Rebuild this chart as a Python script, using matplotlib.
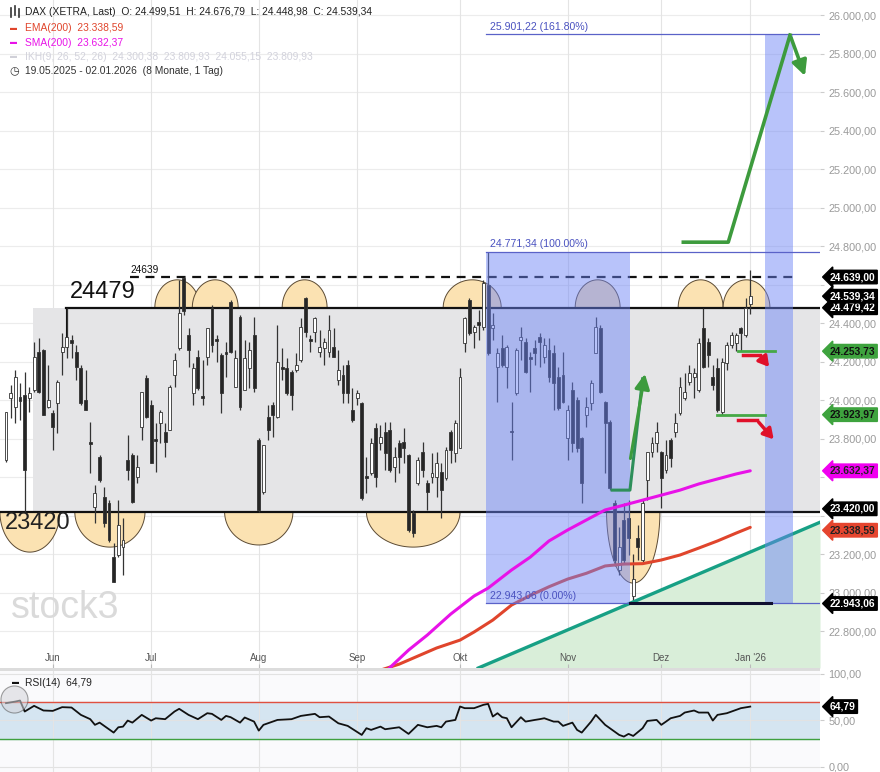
import numpy as np
import matplotlib
matplotlib.use("Agg")
import matplotlib.pyplot as plt
from matplotlib.patches import Rectangle, Polygon
from matplotlib.lines import Line2D
from matplotlib.transforms import blended_transform_factory

plt.rcParams['font.family'] = ['Liberation Sans', 'DejaVu Sans']

# trading day index 0 = 19.05.2025 ... 159 = 02.01.2026
tick_idx = [10, 31, 54, 75, 97, 120, 140, 159]
tick_labels = ["Jun", "Jul", "Aug", "Sep", "Okt", "Nov", "Dez", "Jan '26"]

opens = [23688, 24010, 23964, 24016, 24026, 24010, 24052, 24249, 24260, 23964,
         23932, 23984, 24249, 24275, 24312, 24249, 24166, 24000, 23782, 23444,
         23704, 23496, 23465, 23184, 23195, 23236, 23688, 23714, 23600, 23860,
         24114, 23974, 23797, 23880, 23834, 23844, 24130, 24270, 24634, 24338,
         24036, 24223, 24021, 24223, 24478, 24317, 24234, 24249, 24509, 24068,
         24431, 24052, 24166, 24338, 23792, 23522, 23912, 23974, 23912, 24171,
         24166, 24145, 24156, 24208, 24530, 24317, 24353, 24249, 24270, 24249,
         24275, 24104, 24130, 24182, 23948, 24010, 23984, 23605, 23621, 23854,
         23777, 23834, 23844, 23652, 23777, 23782, 23714, 23413, 23569, 23730,
         23569, 23600, 23600, 23626, 23595, 23834, 23725, 23751, 24296, 24519,
         24353, 24405, 24379, 24597, 24374, 24171, 24270, 24171, 23839, 24036,
         24312, 24301, 24223, 24270, 24327, 24223, 24260, 24244, 24120, 24130,
         23802, 24052, 24000, 23802, 23922, 23984, 24244, 24374, 23990, 23886,
         23465, 23117, 23377, 23387, 22980, 23283, 23169, 23584, 23730, 23777,
         23730, 23636, 23792, 23834, 23932, 24010, 24094, 24120, 24052, 24374,
         24301, 24120, 24166, 23938, 24192, 24286, 24296, 24374, 24338, 24499.51]
highs = [23938, 24078, 24156, 24088, 24145, 24068, 24301, 24322, 24265, 24182,
         23948, 24104, 24348, 24479, 24338, 24286, 24182, 24156, 23886, 23558,
         23714, 23548, 23480, 23257, 23480, 23387, 23818, 23725, 23714, 24042,
         24130, 24000, 23880, 23948, 23880, 24078, 24244, 24623, 24639, 24374,
         24192, 24260, 24208, 24374, 24494, 24338, 24244, 24301, 24519, 24260,
         24442, 24312, 24301, 24431, 23802, 23766, 23974, 23990, 24390, 24270,
         24218, 24156, 24244, 24426, 24535, 24338, 24431, 24364, 24322, 24442,
         24374, 24260, 24182, 24208, 24062, 24052, 23990, 23704, 23802, 23880,
         23870, 23886, 23886, 23756, 23792, 23854, 23720, 23429, 23704, 23782,
         23584, 23725, 23730, 23673, 23756, 23844, 23896, 24166, 24431, 24530,
         24390, 24467, 24623, 24771, 24452, 24270, 24338, 24286, 23990, 24270,
         24379, 24322, 24249, 24312, 24348, 24322, 24322, 24286, 24171, 24249,
         23974, 24094, 24016, 23808, 24016, 24104, 24431, 24390, 23995, 23896,
         23480, 23340, 23465, 23480, 23200, 23351, 23480, 23730, 23808, 23886,
         23735, 23792, 23802, 23932, 24120, 24140, 24182, 24166, 24322, 24479,
         24322, 24182, 24218, 24218, 24301, 24353, 24348, 24379, 24530, 24676.79]
lows = [23678, 23906, 23880, 23896, 23420, 23938, 24042, 24036, 23922, 23958,
        23740, 23828, 24130, 24218, 24218, 24104, 23974, 23948, 23621, 23361,
        23574, 23340, 23262, 23055, 23184, 23091, 23584, 23465, 23569, 23792,
        23906, 23673, 23626, 23777, 23704, 23844, 24068, 24260, 24442, 24171,
        23974, 24052, 23974, 24182, 24249, 24197, 23932, 24120, 24244, 24068,
        23948, 24052, 24062, 24042, 23420, 23510, 23792, 23808, 23906, 24104,
        24026, 23948, 24145, 24197, 24327, 24249, 24301, 24223, 24182, 24223,
        24223, 24078, 23984, 23984, 23886, 23974, 23480, 23517, 23610, 23548,
        23740, 23636, 23626, 23574, 23621, 23673, 23314, 23288, 23558, 23600,
        23429, 23569, 23496, 23387, 23584, 23673, 23678, 23751, 24249, 24338,
        24270, 24312, 24364, 24234, 24312, 23990, 24171, 24062, 23688, 24026,
        24208, 24140, 24042, 24182, 24171, 24192, 24094, 23948, 23948, 23984,
        23688, 23730, 23730, 23465, 23860, 23948, 24244, 24036, 23621, 23532,
        23140, 23091, 23153, 23195, 22943.06, 23169, 23153, 23480, 23704, 23730,
        23439, 23621, 23652, 23808, 23922, 24000, 24078, 24010, 24042, 24166,
        24171, 24052, 23938, 23923.97, 24156, 24270, 24253.73, 24254, 24327, 24448.98]
closes = [23938, 24036, 24120, 23995, 23636, 24036, 24223, 24042, 23922, 24000,
          23860, 24094, 24275, 24327, 24296, 24171, 23984, 23948, 23771, 23517,
          23584, 23361, 23273, 23055, 23351, 23273, 23636, 23470, 23652, 24042,
          23912, 23673, 23787, 23938, 23782, 24068, 24208, 24452, 24460, 24260,
          24166, 24062, 24010, 24374, 24286, 24307, 24036, 24239, 24249, 24218,
          23964, 24218, 24260, 24062, 23429, 23766, 23844, 23922, 24197, 24161,
          24036, 24026, 24182, 24379, 24353, 24307, 24426, 24275, 24301, 24364,
          24223, 24156, 24036, 24036, 23896, 24036, 23491, 23595, 23777, 23600,
          23808, 23725, 23636, 23704, 23704, 23751, 23325, 23309, 23688, 23636,
          23522, 23621, 23673, 23532, 23740, 23740, 23880, 24120, 24426, 24348,
          24379, 24390, 24608, 24244, 24390, 24244, 24182, 24275, 23834, 24260,
          24327, 24145, 24213, 24244, 24301, 24286, 24120, 24088, 23958, 23990,
          23948, 23777, 23751, 23569, 23964, 24088, 24379, 24042, 23880, 23543,
          23169, 23236, 23169, 23283, 23070, 23236, 23465, 23730, 23777, 23834,
          23595, 23714, 23699, 23880, 24068, 24042, 24140, 24140, 24296, 24171,
          24234, 24078, 23948, 24197, 24286, 24338, 24338, 24348, 24478, 24539.34]

ema_days = [80, 84, 88, 92, 97, 100, 104, 108, 112, 116, 120, 124, 128, 132, 136,
            140, 144, 148, 152, 156, 159]
ema_vals = [22597, 22628, 22670, 22712, 22753, 22795, 22857, 22935, 22985, 23030,
            23070, 23100, 23138, 23148, 23150, 23169, 23195, 23231, 23268, 23309,
            23338.59]
sma_days = [81, 86, 90, 95, 100, 103, 108, 112, 116, 120, 124, 128, 132, 136, 140,
            144, 148, 152, 156, 159]
sma_vals = [22587, 22701, 22779, 22888, 22982, 23023, 23117, 23184, 23268, 23325,
            23377, 23429, 23454, 23480, 23506, 23532, 23564, 23590, 23616, 23632.37]

rsi_days = [0, 2, 3, 4, 6, 8, 10, 12, 14, 16,
            18, 19, 20, 23, 24, 25, 26, 27, 29, 31,
            32, 34, 36, 37, 39, 41, 43, 44, 46, 47,
            48, 50, 51, 53, 54, 55, 58, 61, 63, 66,
            67, 69, 71, 73, 76, 77, 78, 80, 81, 84,
            86, 88, 90, 92, 93, 94, 96, 97, 98, 100,
            102, 103, 104, 105, 106, 107, 108, 110, 111, 113,
            114, 115, 117, 118, 119, 121, 122, 123, 125, 126,
            128, 129, 131, 132, 133, 134, 136, 137, 139, 140,
            141, 142, 144, 145, 147, 148, 150, 151, 152, 154,
            155, 157, 159]
rsi_vals = [68.5, 70.2, 71.3, 59.5, 65.6, 60.6, 60.2, 64.2, 63.8, 55.9,
            51.3, 45.2, 47.6, 36.9, 42.6, 43.3, 49.8, 47.6, 55.9, 49.8,
            52.3, 51.3, 59.5, 62.4, 55.9, 51.3, 57.7, 57.0, 50.5, 54.8,
            53.4, 47.6, 53.1, 48.7, 39.0, 45.2, 50.5, 51.3, 54.8, 57.0,
            53.4, 54.1, 46.9, 44.1, 34.4, 41.6, 39.8, 43.3, 40.5, 42.6,
            35.5, 45.2, 42.6, 44.1, 42.6, 48.7, 50.5, 64.9, 63.1, 63.1,
            66.7, 67.7, 54.1, 57.7, 53.4, 52.3, 42.6, 53.4, 48.7, 50.5,
            51.3, 52.3, 48.7, 48.7, 44.1, 47.6, 39.8, 36.9, 48.7, 55.9,
            45.2, 41.6, 34.4, 32.6, 35.5, 33.3, 41.6, 49.4, 50.5, 45.2,
            48.7, 52.3, 54.8, 58.4, 60.6, 58.4, 58.4, 49.8, 55.9, 57.7,
            59.5, 63.1, 64.79]

# levels
res_level = 24479.42
sup_level = 23420.00
top_level = 24639.00
fib_hi, fib_lo, fib_ext = 24771.34, 22943.06, 25901.22
green_hi, green_lo = 24253.73, 23923.97

# drawings (day index, price)
trend_days, trend_vals = [100.9, 173.9], [22608, 23365]
proj_days, proj_vals = [144.7, 154.3, 167.5], [24820, 24820, 25896]
nov_days, nov_vals = [129.5, 133.3, 136.0], [23532, 23532, 24110]
top_arch_c = [36.6, 44.7, 63.8, 99.6, 126.4, 148.4, 158.2]
top_arch_w = [4.8, 4.9, 4.8, 6.2, 4.8, 4.8, 5.0]
bot_arch_c = [5.1, 22.2, 54.0, 87.0, 134.0]
bot_arch_w = [6.4, 7.5, 7.3, 10.0, 5.7]
bot_arch_d = [23210, 23236, 23247, 23236, 23049]

# axis ticks hidden behind the price tags
right_ticks = list(range(22800, 26001, 200))
covered_ticks = [23400, 23600, 24600]

X0, X1 = -1.28, 173.9
Y0, Y1 = 22608, 26078


def de(v):
    s = f"{v:,.2f}"
    return s.replace(",", "X").replace(".", ",").replace("X", ".")


fig = plt.figure(figsize=(8.8, 7.72), dpi=100)
ax = fig.add_axes([0, 104 / 772, 820 / 880, 668 / 772])
rx = fig.add_axes([0, 0, 820 / 880, 101 / 772])
fig.patches.append(Rectangle((0, 101 / 772), 820 / 880, 3 / 772, transform=fig.transFigure,
                             fc='#dcdcdc', ec='none'))

ax.set_xlim(X0, X1)
ax.set_ylim(Y0, Y1)
for s in ax.spines.values():
    s.set_visible(False)

for v in right_ticks:
    ax.axhline(v, color='#ececec', lw=0.8, zorder=0)
for i in tick_idx:
    ax.axvline(i, color='#e4e4e4', lw=0.8, zorder=0)
    rx.axvline(i, color='#e4e4e4', lw=0.8, zorder=1)

# range box
ax.add_patch(Rectangle((5.8, sup_level), X1 - 5.8, res_level - sup_level,
                       fc='#e5e5e7', ec='none', zorder=1))
ax.fill_between(trend_days, trend_vals, Y0, color='#d9eed9', zorder=1, lw=0)

# arches
t = np.linspace(0, np.pi, 60)
for c, w in zip(top_arch_c, top_arch_w):
    pts = np.column_stack([c + w * np.cos(t), res_level + 145 * np.sin(t)])
    ax.add_patch(Polygon(pts, closed=True, fc='#fbe2b2', ec='#5b4a33', lw=0.7, zorder=2))
for c, w, d in zip(bot_arch_c, bot_arch_w, bot_arch_d):
    pts = np.column_stack([c + w * np.cos(t), sup_level - (sup_level - d) * np.sin(t)])
    ax.add_patch(Polygon(pts, closed=True, fc='#fbe2b2', ec='#5b4a33', lw=0.7, zorder=2))

# levels
ax.plot([12.8, X1], [res_level, res_level], color='#111', lw=1.6, zorder=3)
ax.plot([X0, X1], [sup_level, sup_level], color='#111', lw=1.6, zorder=3)
ax.plot([26.5, 168.2], [top_level, top_level], color='#111', lw=1.6,
        dashes=(4, 3), zorder=3)
ax.plot([12.8, 12.8], [24327, res_level], color='#111', lw=0.8, zorder=3)

# candles
idx = np.arange(len(closes))
o = np.array(opens)
c_ = np.array(closes)
h = np.array(highs)
l = np.array(lows)
up = c_ >= o
ax.vlines(idx, l, h, color='#333', lw=0.9, zorder=4)
bottoms = np.minimum(o, c_)
heights = np.maximum(np.abs(c_ - o), 5)
ax.bar(idx, heights, bottom=bottoms, width=0.62,
       color=np.where(up, 'white', '#262626'), edgecolor='#333', linewidth=0.6, zorder=4)

ax.plot(ema_days, ema_vals, color='#e0452c', lw=2.2, zorder=5, solid_capstyle='round')
ax.plot(trend_days, trend_vals, color='#17a085', lw=2.4, zorder=5)

# fibonacci boxes
ax.add_patch(Rectangle((102.6, fib_lo), 133.3 - 102.6, fib_hi - fib_lo,
                       fc='#6b83f6', ec='none', alpha=0.48, zorder=6))
ax.add_patch(Rectangle((162.2, fib_lo), 168.2 - 162.2, fib_ext - fib_lo,
                       fc='#6b83f6', ec='none', alpha=0.48, zorder=6))
for v in (fib_ext, fib_hi, fib_lo):
    ax.plot([102.6, X1], [v, v], color='#5a62c8', lw=0.9, zorder=6)
fib_fs = 7.6
ax.text(103.4, fib_ext + 12, de(fib_ext) + " (161.80%)", color='#4a52c0', fontsize=fib_fs,
        va='bottom', zorder=8)
ax.text(103.4, fib_hi + 12, de(fib_hi) + " (100.00%)", color='#4a52c0', fontsize=fib_fs,
        va='bottom', zorder=8)
ax.text(103.4, fib_lo + 12, de(fib_lo) + " (0.00%)", color='#4a52c0', fontsize=fib_fs,
        va='bottom', zorder=8)
ax.plot([133.3, 163.5], [fib_lo, fib_lo], color='#101030', lw=2.2, zorder=7)

ax.plot(sma_days, sma_vals, color='#e812e8', lw=2.2, zorder=7, solid_capstyle='round')

# green / red drawings
gcol = '#3d9b3d'
ax.plot(proj_days, proj_vals, color=gcol, lw=2.6, zorder=8, solid_joinstyle='round')
ax.annotate('', xy=(170.9, 25670), xytext=(proj_days[-1], proj_vals[-1]),
            arrowprops=dict(arrowstyle='-|>,head_width=0.45,head_length=0.9',
                            color=gcol, lw=2.6), zorder=8)
ax.plot(nov_days, nov_vals, color='#2e8f5a', lw=2.2, zorder=8)
ax.annotate('', xy=(136.6, 24150), xytext=(nov_days[1], nov_vals[1] + 150),
            arrowprops=dict(arrowstyle='-|>,head_width=0.45,head_length=0.9',
                            color=gcol, lw=2.2), zorder=8)
ax.plot([156.4, 164.3], [green_hi, green_hi], color='#45a845', lw=2, zorder=8)
ax.plot([151.9, 162.2], [green_lo, green_lo], color='#45a845', lw=2, zorder=8)
rcol = '#e0102a'
ax.plot([157.5, 161.1], [24234, 24234], color=rcol, lw=2.5, zorder=8)
ax.annotate('', xy=(163.4, 24160), xytext=(161.0, 24234),
            arrowprops=dict(arrowstyle='-|>,head_width=0.35,head_length=0.6',
                            color=rcol, lw=2.5), zorder=8)
ax.plot([156.4, 160.5], [23896, 23896], color=rcol, lw=2.5, zorder=8)
ax.annotate('', xy=(164.4, 23785), xytext=(160.4, 23896),
            arrowprops=dict(arrowstyle='-|>,head_width=0.35,head_length=0.6',
                            color=rcol, lw=2.5), zorder=8)

# level labels
ax.text(26.5, top_level + 12, "24639", fontsize=7.3, va='bottom', color='#111', zorder=9)
ax.text(13.6, 24560, "24479", fontsize=17, va='center', color='#111', zorder=9)
ax.text(-0.3, 23361, "23420", fontsize=17, va='center', color='#222', zorder=9)
ax.text(1.0, 22920, "stock3", fontsize=27, va='center', color='#dadada', zorder=1)

# right axis
ax.yaxis.tick_right()
ax.set_yticks(right_ticks)
ax.set_yticklabels(['' if v in covered_ticks else de(v) for v in right_ticks])
ax.tick_params(axis='y', colors='#cccccc', labelcolor='#9a9a9a', labelsize=7.8,
               length=3, pad=3)
ax.set_xticks(tick_idx)
ax.set_xticklabels(tick_labels)
ax.tick_params(axis='x', direction='in', pad=-11, length=3, colors='#bbbbbb',
               labelcolor='#555555', labelsize=7)

tr = blended_transform_factory(ax.transAxes, ax.transData)


def tag(axis, trans, v, text, fc, tc):
    axis.text(1.012, v, text, transform=trans, ha='left', va='center', fontsize=7.4,
              fontweight='bold', color=tc, clip_on=False, zorder=20,
              bbox=dict(boxstyle='larrow,pad=0.17', fc=fc, ec=fc))


tag(ax, tr, top_level, de(top_level), 'black', 'white')
tag(ax, tr, res_level, de(res_level), 'black', 'white')
tag(ax, tr, closes[-1], de(closes[-1]), 'black', 'white')
tag(ax, tr, green_hi, de(green_hi), '#3ea33e', '#111')
tag(ax, tr, green_lo, de(green_lo), '#3ea33e', '#111')
tag(ax, tr, sma_vals[-1], de(sma_vals[-1]), '#f000f0', '#222')
tag(ax, tr, sup_level + 15, de(sup_level), 'black', 'white')
tag(ax, tr, ema_vals[-1] - 15, de(ema_vals[-1]), '#e5452f', '#222')
tag(ax, tr, fib_lo, de(fib_lo), 'black', 'white')

# RSI panel
rx.set_xlim(X0, X1)
rx.set_ylim(-5.4, 103)
rx.set_facecolor('#fafafc')
for s in rx.spines.values():
    s.set_visible(False)
rx.axhspan(30, 70, color='#d5e5f1', zorder=0)
for v in (0, 50, 100):
    rx.axhline(v, color='#e2e2e2', lw=0.8, zorder=0)
rx.axhline(70, color='#e05040', lw=1.0, zorder=2)
rx.axhline(30, color='#3fa03f', lw=1.0, zorder=2)
rx.plot(rsi_days, rsi_vals, color='#111', lw=1.3, zorder=3)
rx.scatter([1.8], [73], s=380, fc='#d4d4da', ec='#555', lw=0.8, alpha=0.55, zorder=4)
rx.set_xticks([])
rx.yaxis.tick_right()
rx.set_yticks([0, 50, 100])
rx.set_yticklabels(['0,00', '50,00', '100,00'])
rx.tick_params(axis='y', colors='#cccccc', labelcolor='#9a9a9a', labelsize=7.8,
               length=3, pad=3)
rtr = blended_transform_factory(rx.transAxes, rx.transData)
tag(rx, rtr, rsi_vals[-1], "64,79", 'black', 'white')


# header texts
def ftext(x, y, s, **kw):
    fig.text(x / 880, 1 - y / 772, s, va='center', ha='left', **kw)


# small candlestick icon before the instrument name
for px, y0, y1 in [(11, 8, 17), (15, 6, 15), (19, 9, 17)]:
    fig.add_artist(Line2D([px / 880, px / 880], [1 - y0 / 772, 1 - y1 / 772],
                          transform=fig.transFigure, color='#333', lw=1.2))

hfs = 7.4
ftext(25, 12, "DAX (XETRA, Last)  O: 24.499,51  H: 24.676,79  L: 24.448,98  C: 24.539,34",
      fontsize=hfs, color='#222')
ftext(10, 28, "\u25ac", fontsize=5, color='#e0452c')
ftext(25, 28, "EMA(200)  23.338,59", fontsize=hfs, color='#e0452c')
ftext(10, 43, "\u25ac", fontsize=5, color='#e812e8')
ftext(25, 43, "SMA(200)  23.632,37", fontsize=hfs, color='#e812e8')
ftext(10, 57, "\u25ac", fontsize=5, color='#d0d0d8')
ftext(25, 57, "IKH(9, 26, 52, 26)  24.300,38  23.809,93  24.055,15  23.809,93",
      fontsize=hfs, color='#d2d2dc')
ftext(9, 71, "\u25f7", fontsize=8, color='#333')
ftext(25, 71, "19.05.2025 - 02.01.2026  (8 Monate, 1 Tag)", fontsize=hfs, color='#333')
ftext(12, 683, "\u25ac", fontsize=5, color='#111')
ftext(25, 683, "RSI(14)  64,79", fontsize=hfs, color='#222')

fig.savefig("out.png", dpi=100)
